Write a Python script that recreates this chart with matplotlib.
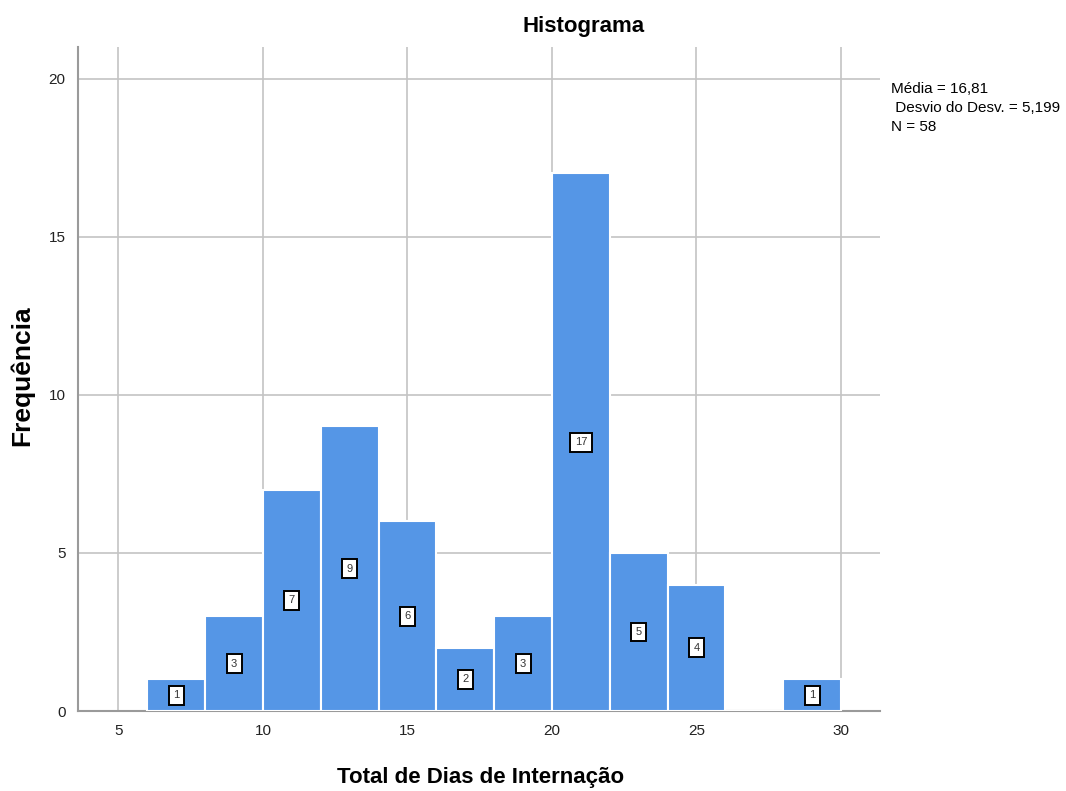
import numpy as np
import matplotlib
matplotlib.use("Agg")
import matplotlib.pyplot as plt

plt.rcParams["font.family"] = ["Liberation Sans", "DejaVu Sans"]

# histogram data: bin edges (days) and counts
bin_edges = [6, 8, 10, 12, 14, 16, 18, 20, 22, 24, 26, 28, 30]
counts = [1, 3, 7, 9, 6, 2, 3, 17, 5, 4, 0, 1]
stats_lines = ["Média = 16,81", " Desvio do Desv. = 5,199", "N = 58"]

fig = plt.figure(figsize=(10.66, 7.91), dpi=100)
ax = fig.add_axes([0.0732, 0.1011, 0.7523, 0.8395])

left = np.array(bin_edges[:-1])
width = np.diff(bin_edges)
ax.bar(left, counts, width=width, align="edge", color="#5596e6",
       edgecolor="white", linewidth=1.5, zorder=3)

for x, w, c in zip(left, width, counts):
    if c > 0:
        ax.text(x + w / 2, c / 2, str(c), ha="center", va="center", fontsize=8,
                color="#333333", zorder=4,
                bbox=dict(boxstyle="square,pad=0.4", facecolor="white",
                          edgecolor="black", linewidth=1.4))

ax.set_xlim(3.6, 31.35)
ax.set_ylim(0, 21)
ax.set_xticks([5, 10, 15, 20, 25, 30])
ax.set_yticks([0, 5, 10, 15, 20])
ax.grid(True, color="#c4c4c4", linewidth=1.2, zorder=0)
ax.set_axisbelow(True)
ax.tick_params(length=0, labelsize=11, colors="#222222", pad=9)

for s in ["top", "right"]:
    ax.spines[s].set_visible(False)
for s in ["left", "bottom"]:
    ax.spines[s].set_color("#9a9a9a")
    ax.spines[s].set_linewidth(1.5)

fig.text(0.547, 0.966, "Histograma", ha="center", va="center",
         fontsize=16, fontweight="bold")
fig.text(0.451, 0.017, "Total de Dias de Internação", ha="center",
         va="center", fontsize=16, fontweight="bold")
fig.text(0.021, 0.525, "Frequência", ha="center", va="center", rotation=90,
         fontsize=19, fontweight="bold")

fig.text(0.836, 0.896, "\n".join(stats_lines), ha="left", va="top",
         fontsize=11, linespacing=1.45)

fig.savefig("out.png", dpi=100)
